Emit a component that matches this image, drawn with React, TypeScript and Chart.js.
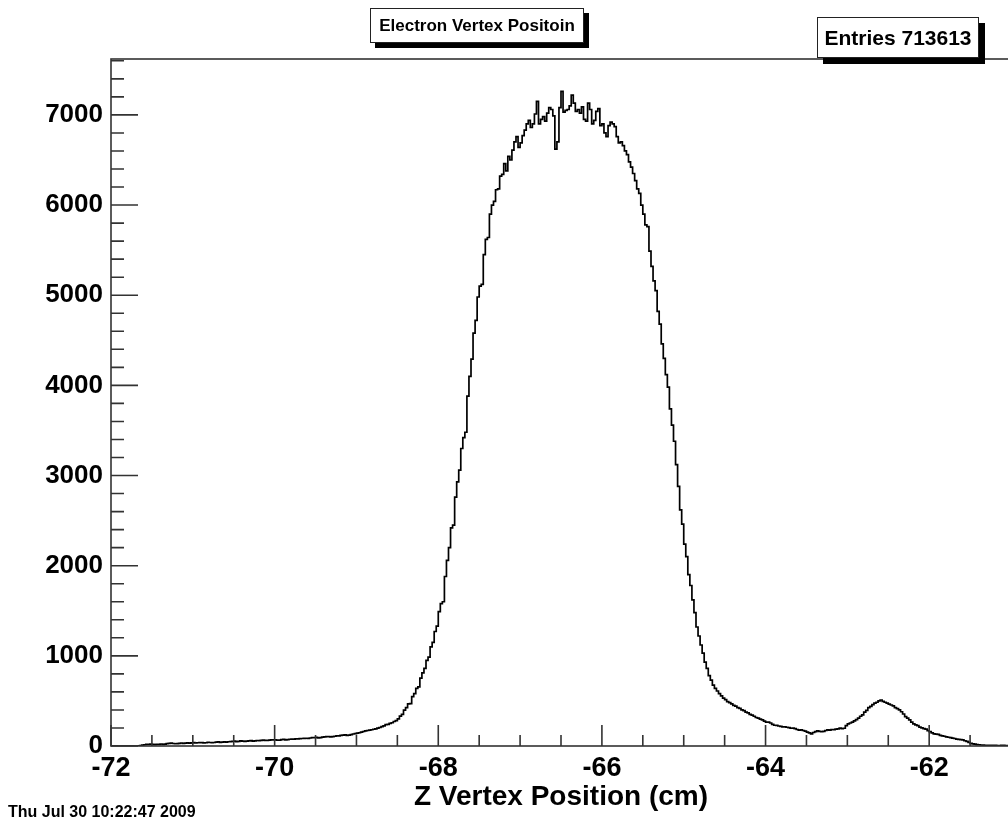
import React, { useEffect, useRef } from 'react';
import { Chart, registerables } from 'chart.js';

Chart.register(...registerables);

const X_MIN = -72;
const X_MAX = -61;
const BIN_WIDTH = 0.025;
const Y_MIN = 0;
const Y_MAX = 7620;

const TITLE = 'Electron Vertex Positoin';
const X_TITLE = 'Z Vertex Position (cm)';
const STATS = 'Entries 713613';
const DATE = 'Thu Jul 30 10:22:47 2009';

// counts per bin, 0.025 cm bins from -72 to -61 (440 bins), one row = 0.5 cm
const counts = [
  0, 0, 2, 1, 0, 0, 2, 3, 1, 0, 2, 1, 0, 0, 3, 5, 10, 14, 17, 19,
  21, 19, 15, 17, 19, 22, 17, 20, 26, 29, 31, 28, 25, 27, 30, 33, 29, 31, 34, 32,
  35, 37, 33, 36, 38, 37, 34, 36, 41, 39, 37, 39, 44, 46, 41, 43, 45, 43, 47, 49,
  51, 53, 49, 51, 56, 54, 52, 54, 57, 59, 55, 57, 61, 59, 63, 65, 62, 61, 65, 67,
  67, 69, 64, 66, 71, 73, 69, 71, 75, 77, 77, 79, 79, 82, 83, 85, 86, 85, 89, 92,
  93, 95, 91, 94, 99, 101, 103, 105, 101, 104, 108, 112, 113, 117, 121, 123, 117, 120, 127, 133,
  137, 143, 147, 154, 161, 168, 172, 177, 180, 186, 190, 199, 205, 215, 224, 236, 240, 251, 258, 272,
  282, 300, 332, 350, 398, 425, 468, 470, 548, 580, 640, 655, 752, 810, 860, 950, 985, 1100, 1150, 1270,
  1330, 1490, 1580, 1600, 1880, 2060, 2200, 2420, 2450, 2760, 2930, 3060, 3300, 3420, 3480, 3880, 4100, 4290, 4580, 4720,
  4980, 5100, 5120, 5450, 5620, 5640, 5900, 6000, 6040, 6170, 6180, 6320, 6340, 6460, 6380, 6540, 6500, 6610, 6700, 6760,
  6640, 6690, 6770, 6830, 6900, 6940, 6860, 6900, 7010, 7150, 6900, 6950, 6980, 6930, 7020, 7080, 7060, 6990, 6620, 6700,
  7080, 7260, 7030, 7050, 7060, 7100, 7220, 7130, 7040, 7060, 7020, 7090, 6950, 6930, 7130, 7060, 6900, 6940, 7040, 7070,
  6880, 6900, 6800, 6760, 6880, 6920, 6900, 6870, 6760, 6690, 6700, 6660, 6600, 6560, 6480, 6420, 6350, 6270, 6180, 6130,
  6000, 5900, 5780, 5760, 5490, 5320, 5160, 5050, 4820, 4680, 4460, 4300, 4120, 3980, 3740, 3560, 3380, 3120, 2880, 2620,
  2460, 2240, 2100, 1900, 1780, 1620, 1480, 1320, 1220, 1120, 1030, 930, 860, 780, 730, 675, 640, 610, 580, 555,
  530, 515, 492, 480, 468, 450, 442, 426, 418, 400, 392, 376, 368, 350, 342, 330, 316, 310, 298, 290,
  275, 265, 265, 255, 240, 230, 228, 222, 218, 212, 212, 208, 203, 197, 198, 192, 183, 177, 178, 172,
  165, 155, 145, 135, 150, 160, 168, 162, 158, 163, 172, 178, 177, 183, 182, 188, 190, 198, 193, 197,
  225, 245, 255, 265, 278, 292, 310, 330, 345, 375, 395, 425, 440, 460, 475, 485, 500, 510, 495, 485,
  475, 465, 455, 445, 425, 415, 400, 380, 355, 325, 310, 290, 265, 245, 235, 225, 210, 200, 193, 187,
  170, 160, 145, 135, 132, 128, 118, 112, 108, 102, 97, 93, 87, 83, 77, 73, 71, 69, 58, 52,
  40, 30, 24, 20, 16, 14, 11, 9, 8, 8, 6, 6, 7, 7, 5, 5, 6, 6, 4, 4,
];

const xTickLabels = [-72, -70, -68, -66, -64, -62];
const xMinorTicks = [-71.5, -71, -70.5, -69.5, -69, -68.5, -67.5, -67, -66.5, -65.5, -65, -64.5, -63.5, -63, -62.5, -61.5, -61];
const yTickLabels = [0, 1000, 2000, 3000, 4000, 5000, 6000, 7000];
const yMinorTicks = [
  200, 400, 600, 800, 1200, 1400, 1600, 1800, 2200, 2400, 2600, 2800,
  3200, 3400, 3600, 3800, 4200, 4400, 4600, 4800, 5200, 5400, 5600, 5800,
  6200, 6400, 6600, 6800, 7200, 7400, 7600,
];

const FONT = '"Liberation Sans", Arial, Helvetica, sans-serif';

const rootFramePlugin = {
  id: 'rootFrame',
  afterDatasetsDraw(chart: any) {
    const { ctx, chartArea, scales } = chart;
    const { left, right, top, bottom } = chartArea;
    const x = scales.x;
    const y = scales.y;
    ctx.save();
    ctx.strokeStyle = '#333333';
    ctx.lineWidth = 1.6;
    ctx.strokeRect(left, top, right - left, bottom - top);
    ctx.beginPath();
    xTickLabels.forEach((v) => {
      const px = x.getPixelForValue(v);
      ctx.moveTo(px, bottom);
      ctx.lineTo(px, bottom - 21);
    });
    xMinorTicks.forEach((v) => {
      const px = x.getPixelForValue(v);
      ctx.moveTo(px, bottom);
      ctx.lineTo(px, bottom - 11);
    });
    yTickLabels.forEach((v) => {
      const py = y.getPixelForValue(v);
      ctx.moveTo(left, py);
      ctx.lineTo(left + 27, py);
    });
    yMinorTicks.forEach((v) => {
      const py = y.getPixelForValue(v);
      ctx.moveTo(left, py);
      ctx.lineTo(left + 13, py);
    });
    ctx.stroke();
    ctx.restore();
  },
};

export default function App() {
  const canvasRef = useRef<HTMLCanvasElement | null>(null);

  useEffect(() => {
    if (!canvasRef.current) return;
    const points = counts.map((c, i) => ({ x: X_MIN + i * BIN_WIDTH, y: c }));
    points.push({ x: X_MAX, y: counts[counts.length - 1] });

    const chart = new Chart(canvasRef.current, {
      type: 'line',
      data: {
        datasets: [
          {
            label: 'Z vertex',
            data: points,
            stepped: 'after',
            borderColor: '#000000',
            borderWidth: 1.7,
            pointRadius: 0,
            fill: false,
          },
        ],
      },
      options: {
        animation: false,
        responsive: false,
        devicePixelRatio: 1,
        layout: { padding: { left: 0, top: 59, right: 9, bottom: 0 } },
        plugins: {
          legend: { display: false },
          tooltip: { enabled: false },
          title: { display: false },
        },
        scales: {
          x: {
            type: 'linear',
            min: X_MIN,
            max: X_MAX,
            grid: { display: false, drawTicks: false },
            border: { display: false },
            afterBuildTicks: (s: any) => {
              s.ticks = xTickLabels.map((v) => ({ value: v }));
            },
            afterFit: (s: any) => {
              s.height = 80;
            },
            ticks: {
              autoSkip: false,
              maxRotation: 0,
              color: '#000',
              padding: 6,
              font: { family: FONT, size: 27, weight: 'bold' },
              callback: (v: any) => String(v),
            },
            title: {
              display: true,
              text: X_TITLE,
              color: '#000',
              font: { family: FONT, size: 28, weight: 'bold' },
              padding: { top: 0, bottom: 12 },
            },
          },
          y: {
            type: 'linear',
            min: Y_MIN,
            max: Y_MAX,
            grid: { display: false, drawTicks: false },
            border: { display: false },
            afterBuildTicks: (s: any) => {
              s.ticks = yTickLabels.map((v) => ({ value: v }));
            },
            afterFit: (s: any) => {
              s.width = 111;
            },
            ticks: {
              color: '#000',
              padding: 8,
              font: { family: FONT, size: 26, weight: 'bold' },
              callback: (v: any) => String(v),
            },
          },
        },
      },
      plugins: [rootFramePlugin],
    });
    return () => chart.destroy();
  }, []);

  return (
    <div
      style={{
        position: 'absolute',
        left: 0,
        top: 0,
        width: 1008,
        height: 826,
        overflow: 'hidden',
        background: '#ffffff',
      }}
    >
      <canvas ref={canvasRef} width={1020} height={826} style={{ display: 'block' }} />
      <div
        style={{
          position: 'absolute',
          left: 370,
          top: 8,
          width: 212,
          height: 33,
          border: '1.5px solid #222',
          background: '#fff',
          boxShadow: '5px 5px 0 #000',
          fontFamily: FONT,
          fontWeight: 'bold',
          fontSize: 17,
          lineHeight: '33px',
          textAlign: 'center',
          color: '#000',
          whiteSpace: 'nowrap',
        }}
      >
        {TITLE}
      </div>
      <div
        style={{
          position: 'absolute',
          left: 817,
          top: 17,
          width: 160,
          height: 39,
          border: '1.5px solid #222',
          background: '#fff',
          boxShadow: '6px 6px 0 #000',
          fontFamily: FONT,
          fontWeight: 'bold',
          fontSize: 21,
          lineHeight: '39px',
          textAlign: 'center',
          color: '#000',
          whiteSpace: 'nowrap',
        }}
      >
        {STATS}
      </div>
      <div
        style={{
          position: 'absolute',
          left: 8,
          top: 802,
          fontFamily: FONT,
          fontWeight: 'bold',
          fontSize: 16,
          lineHeight: '20px',
          color: '#000',
          whiteSpace: 'nowrap',
        }}
      >
        {DATE}
      </div>
    </div>
  );
}
